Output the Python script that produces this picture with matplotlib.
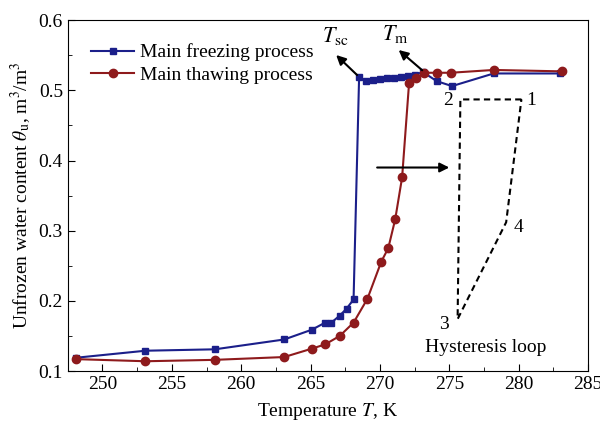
import matplotlib
matplotlib.use("Agg")
import matplotlib.pyplot as plt
from matplotlib.ticker import MultipleLocator, FormatStrFormatter

plt.rcParams['font.family'] = ['Liberation Serif', 'DejaVu Serif']
plt.rcParams['mathtext.fontset'] = 'stix'

# Main freezing process
freeze_T = [248.1, 253.1, 258.1, 263.1, 265.1, 266.05, 266.5, 267.1, 267.6, 268.1,
            268.5, 269.0, 269.5, 270.0, 270.5, 271.0, 271.5, 272.0, 272.5, 273.1,
            274.1, 275.2, 278.2, 283.0]
freeze_theta = [0.119, 0.129, 0.131, 0.145, 0.159, 0.169, 0.169, 0.179, 0.189, 0.202,
                0.519, 0.513, 0.514, 0.516, 0.517, 0.518, 0.519, 0.521, 0.522, 0.526,
                0.513, 0.506, 0.524, 0.524]

# Main thawing process
thaw_T = [248.1, 253.1, 258.1, 263.1, 265.1, 266.05, 267.1, 268.1, 269.1, 270.1,
          270.6, 271.1, 271.6, 272.1, 272.6, 273.2, 274.1, 275.1, 278.2, 283.1]
thaw_theta = [0.117, 0.114, 0.116, 0.120, 0.132, 0.138, 0.150, 0.169, 0.203, 0.256,
              0.275, 0.316, 0.376, 0.510, 0.517, 0.525, 0.525, 0.525, 0.529, 0.527]

# Schematic hysteresis loop (points 1-2-3-4)
loop_T = [280.2, 275.8, 275.6, 279.1, 280.2]
loop_theta = [0.487, 0.487, 0.174, 0.312, 0.487]
loop_labels = ['1', '2', '3', '4']

blue = '#1b1f8a'
red = '#8e1a1c'

fig = plt.figure(figsize=(6.0, 4.28), dpi=100)
ax = fig.add_axes([0.113, 0.133, 0.867, 0.82])

ax.plot(freeze_T, freeze_theta, '-s', color=blue, lw=1.5, ms=5,
        label='Main freezing process')
ax.plot(thaw_T, thaw_theta, '-o', color=red, lw=1.5, ms=6,
        label='Main thawing process')

ax.plot(loop_T, loop_theta, '--', color='black', lw=1.5, dashes=(3, 2))

fs = 14
ax.text(280.9, 0.486, loop_labels[0], fontsize=fs, ha='center', va='center')
ax.text(274.9, 0.486, loop_labels[1], fontsize=fs, ha='center', va='center')
ax.text(274.6, 0.166, loop_labels[2], fontsize=fs, ha='center', va='center')
ax.text(280.0, 0.305, loop_labels[3], fontsize=fs, ha='center', va='center')
ax.text(277.6, 0.133, 'Hysteresis loop', fontsize=fs, ha='center', va='center')

arrow = dict(arrowstyle='-|>', color='black', lw=1.5, mutation_scale=14)
ax.annotate('', xy=(266.7, 0.553), xytext=(268.5, 0.519), arrowprops=arrow)
ax.annotate('', xy=(271.2, 0.560), xytext=(273.2, 0.526), arrowprops=arrow)
ax.annotate('', xy=(275.2, 0.390), xytext=(269.6, 0.390), arrowprops=arrow)
ax.text(266.8, 0.578, r'$T_{\mathrm{sc}}$', fontsize=16, ha='center', va='center')
ax.text(271.1, 0.580, r'$T_{\mathrm{m}}$', fontsize=16, ha='center', va='center')

ax.set_xlim(247.5, 285)
ax.set_ylim(0.1, 0.6)
ax.xaxis.set_major_locator(MultipleLocator(5))
ax.xaxis.set_minor_locator(MultipleLocator(2.5))
ax.yaxis.set_major_locator(MultipleLocator(0.1))
ax.yaxis.set_minor_locator(MultipleLocator(0.05))
ax.tick_params(which='both', direction='in', top=False, right=False, labelsize=fs)
ax.tick_params(which='major', length=5)
ax.tick_params(which='minor', length=3)
ax.yaxis.set_major_formatter(FormatStrFormatter('%.1f'))

ax.set_xlabel(r'Temperature $T$, K', fontsize=fs, labelpad=6)
ax.set_ylabel(r'Unfrozen water content $\theta_{\mathrm{u}}$, m$^3$/m$^3$', fontsize=fs)

ax.legend(loc='upper left', frameon=False, fontsize=fs, handlelength=2.2,
          borderaxespad=0.8, labelspacing=0.25, handletextpad=0.3)

fig.savefig('out.png', dpi=100)
